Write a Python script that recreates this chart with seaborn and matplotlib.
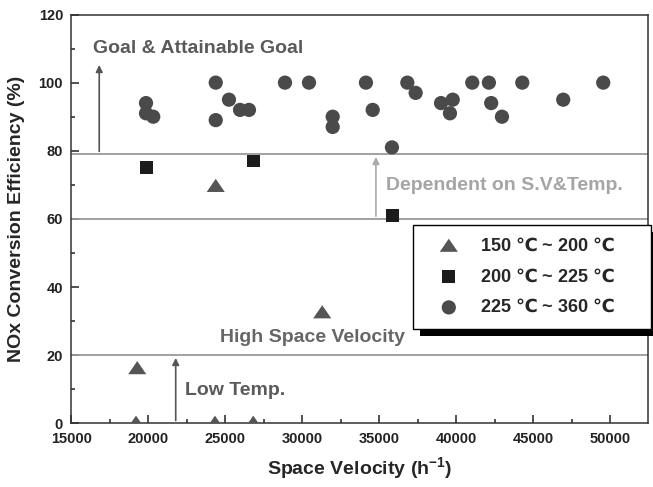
import matplotlib
matplotlib.use("Agg")
import matplotlib.pyplot as plt
from matplotlib.patches import Rectangle
from matplotlib.ticker import MultipleLocator
import seaborn as sns
import pandas as pd

# data
tri_sv = [19280, 19200, 24380, 24330, 26820, 31300]
tri_eff = [16, 0, 69.5, 0, 0, 32.4]

sq_sv = [19890, 26860, 35880]
sq_eff = [75, 77, 61]

circ_sv = [19850, 19850, 20320, 24380, 24380, 25240, 25960, 26540, 28880,
           30440, 31980, 31980, 34140, 34580, 35830, 36830, 37370, 39020,
           39780, 39600, 41050, 42130, 42280, 42980, 44300, 46960, 49560]
circ_eff = [94, 91, 90, 100, 89, 95, 92, 92, 100,
            100, 90, 87, 100, 92, 81, 100, 97, 94,
            95, 91, 100, 100, 94, 90, 100, 95, 100]

labels = ["150 $\\mathrm{℃}$ ~ 200 $\\mathrm{℃}$",
          "200 $\\mathrm{℃}$ ~ 225 $\\mathrm{℃}$",
          "225 $\\mathrm{℃}$ ~ 360 $\\mathrm{℃}$"]

sns.set_theme(style="ticks")
plt.rcParams["font.family"] = ["Liberation Sans", "DejaVu Sans"]
plt.rcParams["font.weight"] = "bold"
plt.rcParams["mathtext.fontset"] = "custom"
plt.rcParams["mathtext.rm"] = "DejaVu Sans"
plt.rcParams["mathtext.bf"] = "Liberation Sans:bold"

fig = plt.figure(figsize=(6.53, 4.87), dpi=100)
ax = fig.add_axes([0.1093, 0.1308, 0.8826, 0.8394])

# reference lines
for yv in [79, 60, 20]:
    ax.axhline(yv, color="#9a9a9a", lw=1.3, zorder=1)

tri_marker = [(-1, -0.6), (1, -0.6), (0, 0.85)]
df_t = pd.DataFrame({"sv": tri_sv, "eff": tri_eff})
df_s = pd.DataFrame({"sv": sq_sv, "eff": sq_eff})
df_c = pd.DataFrame({"sv": circ_sv, "eff": circ_eff})
sns.scatterplot(data=df_t, x="sv", y="eff", marker=tri_marker, s=170,
                color="#555555", edgecolor="none", label=labels[0], ax=ax, zorder=3)
sns.scatterplot(data=df_s, x="sv", y="eff", marker="s", s=85,
                color="#1c1c1c", edgecolor="none", label=labels[1], ax=ax, zorder=3)
sns.scatterplot(data=df_c, x="sv", y="eff", marker="o", s=105,
                color="#4a4a4a", edgecolor="none", label=labels[2], ax=ax, zorder=3)

# arrows + annotations
ax.annotate("", xy=(16810, 106), xytext=(16810, 79),
            arrowprops=dict(arrowstyle="-|>", color="#555555", lw=1.2, mutation_scale=10))
ax.text(16420, 110, "Goal & Attainable Goal", color="#5a5a5a", fontsize=14,
        fontweight="bold", va="center", ha="left")
ax.annotate("", xy=(34790, 79), xytext=(34790, 60),
            arrowprops=dict(arrowstyle="-|>", color="#aaaaaa", lw=1.2, mutation_scale=10))
ax.text(35440, 69.7, "Dependent on S.V&Temp.", color="#a5a5a5", fontsize=14,
        fontweight="bold", va="center", ha="left")
ax.text(24650, 25.3, "High Space Velocity", color="#666666", fontsize=14,
        fontweight="bold", va="center", ha="left")
ax.annotate("", xy=(21780, 20), xytext=(21780, 0),
            arrowprops=dict(arrowstyle="-|>", color="#555555", lw=1.2, mutation_scale=10))
ax.text(22380, 9.7, "Low Temp.", color="#5a5a5a", fontsize=14,
        fontweight="bold", va="center", ha="left")

ax.set_xlim(15000, 52450)
ax.set_ylim(0, 120)
ax.xaxis.set_major_locator(MultipleLocator(5000))
ax.xaxis.set_minor_locator(MultipleLocator(2500))
ax.yaxis.set_major_locator(MultipleLocator(20))
ax.yaxis.set_minor_locator(MultipleLocator(10))
ax.tick_params(which="both", direction="in", colors="#222222", labelsize=10.5,
               width=1.1, top=False, right=False)
ax.tick_params(which="major", length=6, pad=6)
ax.tick_params(which="minor", length=3)
for lab in ax.get_xticklabels() + ax.get_yticklabels():
    lab.set_fontweight("bold")
for sp in ax.spines.values():
    sp.set_visible(True)
    sp.set_color("#333333")
    sp.set_linewidth(1.1)

ax.set_xlabel("Space Velocity (h$^{\\mathbf{-1}}$)", fontsize=14, fontweight="bold", labelpad=7)
ax.set_ylabel("NOx Conversion Efficiency (%)", fontsize=14, fontweight="bold", labelpad=10)

leg = ax.legend(loc="upper left", bbox_to_anchor=(0.632, 0.338, 0.365, 0.2),
                bbox_transform=fig.transFigure, mode="expand", fancybox=False,
                frameon=True, edgecolor="black", framealpha=1, borderaxespad=0,
                prop={"size": 13, "weight": "bold"}, borderpad=0.7, handlelength=2.6,
                handletextpad=0.4, labelspacing=0.72)
leg.get_frame().set_linewidth(1.0)
leg.set_zorder(5)

# solid black drop shadow behind the legend
fig.canvas.draw()
bb = leg.get_window_extent().transformed(fig.transFigure.inverted())
dx, dy = 7 / 653, 7 / 487
ax.add_patch(Rectangle((bb.x0 + dx, bb.y0 - dy), bb.width, bb.height,
                       transform=fig.transFigure, facecolor="black",
                       edgecolor="none", zorder=4.9, clip_on=False))

fig.savefig("out.png", dpi=100)
